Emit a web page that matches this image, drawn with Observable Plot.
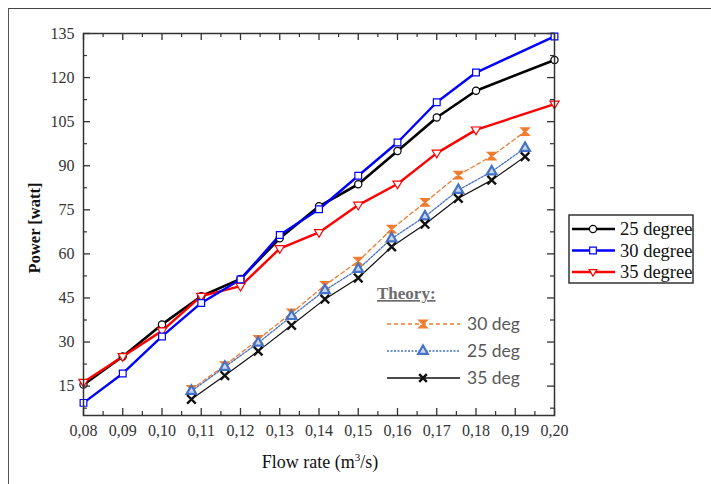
<!DOCTYPE html>
<html><head><meta charset="utf-8">
<script src="https://cdn.jsdelivr.net/npm/d3@7"></script>
<script src="https://cdn.jsdelivr.net/npm/@observablehq/plot@0.6"></script>
<style>
body{margin:0;background:#fff;}
#wrap{position:relative;width:711px;height:484px;overflow:hidden;background:#fff;}
#chart{position:absolute;left:0;top:0;}
#border{position:absolute;left:8px;top:8px;width:720px;height:500px;border-left:1.5px solid #555;border-top:1.5px solid #444;}
#ylab{position:absolute;left:35px;top:228px;transform:translate(-50%,-50%) rotate(-90deg);font:bold 16.5px "Liberation Serif",serif;white-space:nowrap;color:#111;}
#xlab{position:absolute;left:320px;top:462px;transform:translate(-50%,-50%);font:18px "Liberation Serif",serif;white-space:nowrap;color:#111;}
#xlab sup{font-size:11px;vertical-align:7px;line-height:0;}
#overlay{position:absolute;left:0;top:0;pointer-events:none;}
</style></head>
<body>
<div id="wrap">
  <div id="border"></div>
  <div id="chart"></div>
  <div id="ylab">Power [watt]</div>
  <div id="xlab">Flow rate (m<sup>3</sup>/s)</div>
  <svg id="overlay" width="711" height="484"></svg>
</div>
<script>
// ---- data ----
const flow = [0.08, 0.09, 0.10, 0.11, 0.12, 0.13, 0.14, 0.15, 0.16, 0.17, 0.18, 0.20];
const exp25 = [15.5, 25.1, 36.0, 45.6, 51.5, 65.3, 76.2, 83.7, 95.0, 106.4, 115.5, 126.0];
const exp30 = [9.3, 19.3, 31.9, 43.3, 51.3, 66.4, 75.2, 86.6, 97.9, 111.6, 121.7, 134.0];
const exp35 = [16.3, 25.1, 33.8, 45.6, 49.0, 61.8, 67.3, 76.6, 83.8, 94.3, 102.2, 111.0];

const flowTh = [0.1075, 0.116, 0.1245, 0.133, 0.1415, 0.150, 0.1585, 0.167, 0.1755, 0.184, 0.1925];
const th30 = [13.9, 22.0, 30.9, 39.9, 49.3, 57.5, 68.4, 77.5, 86.8, 93.3, 101.6];
const th25 = [13.3, 21.5, 29.7, 38.8, 47.6, 54.8, 65.2, 72.7, 81.7, 88.0, 96.0];
const th35 = [10.5, 18.6, 26.9, 35.7, 44.6, 51.8, 62.4, 70.1, 78.9, 85.1, 93.1];

const xTicks = [0.08, 0.09, 0.10, 0.11, 0.12, 0.13, 0.14, 0.15, 0.16, 0.17, 0.18, 0.19, 0.20];
const xMinor = [0.085, 0.095, 0.105, 0.115, 0.125, 0.135, 0.145, 0.155, 0.165, 0.175, 0.185, 0.195];
const yTicks = [15, 30, 45, 60, 75, 90, 105, 120, 135];
const yMinor = [7.5, 22.5, 37.5, 52.5, 67.5, 82.5, 97.5, 112.5, 127.5];

const expNames = ["25 degree", "30 degree", "35 degree"];
const thNames = ["30 deg", "25 deg", "35 deg"];

// ---- symbols ----
const triDown = {draw(ctx, size) {
  const r = Math.sqrt(size / Math.PI) * 1.15;
  ctx.moveTo(0, r);
  ctx.lineTo(-r * 0.95, -r * 0.6);
  ctx.lineTo(r * 0.95, -r * 0.6);
  ctx.closePath();
}};
const hourglass = {draw(ctx, size) {
  const r = Math.sqrt(size / Math.PI) * 0.85;
  ctx.moveTo(-r, -r);
  ctx.lineTo(r, -r);
  ctx.lineTo(-r, r);
  ctx.lineTo(r, r);
  ctx.closePath();
  ctx.moveTo(0, -r);
  ctx.lineTo(0, r);
}};

const zip = (xs, ys) => xs.map((x, i) => ({x, y: ys[i]}));
const d25 = zip(flow, exp25), d30 = zip(flow, exp30), d35 = zip(flow, exp35);
const t30 = zip(flowTh, th30), t25 = zip(flowTh, th25), t35 = zip(flowTh, th35);

const W = 711, H = 484, mL = 83, mR = 157, mT = 33, mB = 69;
const innerW = W - mL - mR, innerH = H - mT - mB;
const fmt = d => d3.format(".2f")(d).replace(".", ",");
const axisColor = "#333";

const chart = Plot.plot({
  width: W, height: H,
  marginLeft: mL, marginRight: mR, marginTop: mT, marginBottom: mB,
  style: {fontFamily: "Liberation Serif, serif", fontSize: "16px", color: "#333", background: "transparent"},
  x: {domain: [0.08, 0.20], label: null},
  y: {domain: [5, 135], label: null},
  marks: [
    // theory
    Plot.line(t30, {x: "x", y: "y", stroke: "#ED7D31", strokeWidth: 1.3, strokeDasharray: "4,3"}),
    Plot.line(t25, {x: "x", y: "y", stroke: "#4472C4", strokeWidth: 1.3, strokeDasharray: "2,1.5"}),
    Plot.line(t35, {x: "x", y: "y", stroke: "#111", strokeWidth: 1.2}),
    Plot.dot(t30, {x: "x", y: "y", symbol: hourglass, r: 4, stroke: "#ED7D31", fill: "#ED7D31", strokeWidth: 2}),
    Plot.dot(t25, {x: "x", y: "y", symbol: "triangle", r: 3.6, stroke: "#4472C4", fill: "#c9d6ee", strokeWidth: 2.2}),
    Plot.dot(t35, {x: "x", y: "y", symbol: "times", r: 4, stroke: "#111", strokeWidth: 2.4}),
    // experiment
    Plot.line(d25, {x: "x", y: "y", stroke: "#000", strokeWidth: 2.6}),
    Plot.line(d35, {x: "x", y: "y", stroke: "#ff0000", strokeWidth: 2.4}),
    Plot.line(d30, {x: "x", y: "y", stroke: "#0000ff", strokeWidth: 2.4}),
    Plot.dot(d25, {x: "x", y: "y", symbol: "circle", r: 3.6, stroke: "#000", fill: "white", strokeWidth: 1.2}),
    Plot.dot(d35, {x: "x", y: "y", symbol: triDown, r: 4.2, stroke: "#ff0000", fill: "white", strokeWidth: 1.2}),
    Plot.dot(d30, {x: "x", y: "y", symbol: "square", r: 3.8, stroke: "#0000ff", fill: "white", strokeWidth: 1.2}),
    // ticks (inward)
    Plot.tickX(xTicks, {x: d => d, insetTop: innerH - 7, stroke: axisColor, strokeWidth: 1.3}),
    Plot.tickX(xTicks, {x: d => d, insetBottom: innerH - 7, stroke: axisColor, strokeWidth: 1.3}),
    Plot.tickX(xMinor, {x: d => d, insetTop: innerH - 4, stroke: axisColor, strokeWidth: 1.2}),
    Plot.tickX(xMinor, {x: d => d, insetBottom: innerH - 4, stroke: axisColor, strokeWidth: 1.2}),
    Plot.tickY(yTicks, {y: d => d, insetRight: innerW - 7, stroke: axisColor, strokeWidth: 1.3}),
    Plot.tickY(yTicks, {y: d => d, insetLeft: innerW - 7, stroke: axisColor, strokeWidth: 1.3}),
    Plot.tickY(yMinor, {y: d => d, insetRight: innerW - 4, stroke: axisColor, strokeWidth: 1.2}),
    Plot.tickY(yMinor, {y: d => d, insetLeft: innerW - 4, stroke: axisColor, strokeWidth: 1.2}),
    // labels
    Plot.axisX({ticks: xTicks, tickSize: 0, tickPadding: 9, tickFormat: fmt, fontSize: 16, label: null}),
    Plot.axisY({ticks: yTicks, tickSize: 0, tickPadding: 9, tickFormat: d => String(d), fontSize: 16, label: null}),
    Plot.frame({stroke: axisColor, strokeWidth: 1.5})
  ]
});
document.getElementById("chart").appendChild(chart);

// ---- legends ----
const ov = d3.select("#overlay");
// experiment legend box
const expColors = ["#000", "#0000ff", "#ff0000"];
const expSyms = [d3.symbolCircle, d3.symbolSquare, triDown];
const bx = 569, by = 215, bw = 124, bh = 68;
ov.append("defs").append("clipPath").attr("id", "lgclip")
  .append("rect").attr("x", bx).attr("y", by).attr("width", bw).attr("height", bh);
ov.append("rect").attr("x", bx).attr("y", by).attr("width", bw).attr("height", bh)
  .attr("fill", "white").attr("stroke", "#333").attr("stroke-width", 1.5);
const lg = ov.append("g").attr("clip-path", "url(#lgclip)");
expNames.forEach((name, i) => {
  const y = by + 14 + i * 21.5;
  lg.append("line").attr("x1", bx + 3).attr("x2", bx + 46).attr("y1", y).attr("y2", y)
    .attr("stroke", expColors[i]).attr("stroke-width", 2.4);
  lg.append("path").attr("d", d3.symbol().type(expSyms[i]).size(i === 1 ? 44 : 40)())
    .attr("transform", `translate(${bx + 24},${y})`)
    .attr("fill", "white").attr("stroke", expColors[i]).attr("stroke-width", 1.2);
  lg.append("text").attr("x", bx + 51).attr("y", y).attr("dy", "0.35em")
    .attr("font-family", "Liberation Serif, serif").attr("font-size", 18.5).attr("fill", "#111")
    .text(name);
});

// theory legend
ov.append("text").attr("x", 377).attr("y", 299)
  .attr("font-family", "Liberation Serif, serif").attr("font-weight", "bold").attr("font-size", 17)
  .attr("fill", "#6d6d6d").attr("text-decoration", "underline").text("Theory:");
const thColors = ["#ED7D31", "#4472C4", "#111"];
const thDash = ["4,3", "2,1.5", null];
const thSyms = [hourglass, d3.symbolTriangle, d3.symbolTimes];
thNames.forEach((name, i) => {
  const y = 324 + i * 27;
  ov.append("line").attr("x1", 387).attr("x2", 460).attr("y1", y).attr("y2", y)
    .attr("stroke", thColors[i]).attr("stroke-width", 1.3).attr("stroke-dasharray", thDash[i]);
  ov.append("path").attr("d", d3.symbol().type(thSyms[i]).size(i === 0 ? 50 : 40)())
    .attr("transform", `translate(423,${y})`)
    .attr("fill", i === 0 ? "#ED7D31" : (i === 1 ? "#c9d6ee" : "none"))
    .attr("stroke", thColors[i]).attr("stroke-width", i === 0 ? 2 : (i === 1 ? 2.2 : 2.5));
  ov.append("text").attr("x", 467).attr("y", y).attr("dy", "0.35em")
    .attr("font-family", "Lato, 'Open Sans', sans-serif").attr("font-size", 17.5).attr("fill", "#595959")
    .text(name);
});
</script>
</body></html>
